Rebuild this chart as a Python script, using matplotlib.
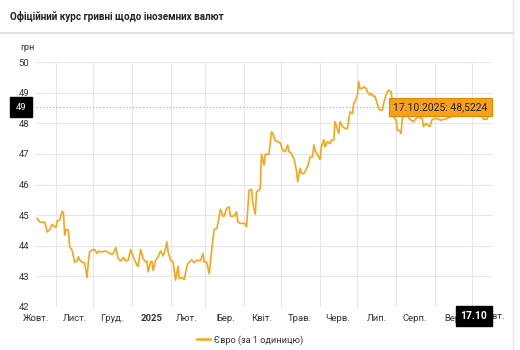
import matplotlib
matplotlib.use("Agg")
import matplotlib.pyplot as plt
import matplotlib.transforms as mtransforms
import pandas as pd

plt.rcParams["font.family"] = ["Roboto", "DejaVu Sans"]

# DATA: official EUR rate
dates = [
    "2024-10-17", "2024-10-19", "2024-10-22", "2024-10-23", "2024-10-25", "2024-10-27",
    "2024-10-29", "2024-10-31", "2024-11-01", "2024-11-02", "2024-11-04", "2024-11-06",
    "2024-11-07", "2024-11-08", "2024-11-09", "2024-11-11", "2024-11-12", "2024-11-14",
    "2024-11-16", "2024-11-18", "2024-11-19", "2024-11-20", "2024-11-22", "2024-11-24",
    "2024-11-26", "2024-11-27", "2024-11-28", "2024-11-30", "2024-12-02", "2024-12-04",
    "2024-12-05", "2024-12-08", "2024-12-11", "2024-12-13", "2024-12-16", "2024-12-17",
    "2024-12-19", "2024-12-21", "2024-12-23", "2024-12-25", "2024-12-27", "2024-12-29",
    "2024-12-31", "2025-01-02", "2025-01-05", "2025-01-06", "2025-01-08", "2025-01-10",
    "2025-01-12", "2025-01-13", "2025-01-14", "2025-01-16", "2025-01-17", "2025-01-18",
    "2025-01-20", "2025-01-22", "2025-01-24", "2025-01-26", "2025-01-28", "2025-01-29",
    "2025-01-30", "2025-02-01", "2025-02-03", "2025-02-05", "2025-02-07", "2025-02-08",
    "2025-02-10", "2025-02-12", "2025-02-14", "2025-02-15", "2025-02-18", "2025-02-20",
    "2025-02-22", "2025-02-25", "2025-02-27", "2025-02-28", "2025-03-02", "2025-03-04",
    "2025-03-06", "2025-03-08", "2025-03-10", "2025-03-11", "2025-03-13", "2025-03-15",
    "2025-03-16", "2025-03-18", "2025-03-20", "2025-03-21", "2025-03-24", "2025-03-26",
    "2025-03-27", "2025-03-29", "2025-04-02", "2025-04-03", "2025-04-05", "2025-04-07",
    "2025-04-08", "2025-04-10", "2025-04-11", "2025-04-13", "2025-04-14", "2025-04-15",
    "2025-04-17", "2025-04-18", "2025-04-21", "2025-04-23", "2025-04-24", "2025-04-26",
    "2025-04-28", "2025-04-30", "2025-05-02", "2025-05-04", "2025-05-06", "2025-05-07",
    "2025-05-09", "2025-05-10", "2025-05-11", "2025-05-13", "2025-05-14", "2025-05-16",
    "2025-05-17", "2025-05-19", "2025-05-22", "2025-05-24", "2025-05-26", "2025-05-27",
    "2025-05-28", "2025-05-30", "2025-06-01", "2025-06-02", "2025-06-04", "2025-06-05",
    "2025-06-07", "2025-06-09", "2025-06-10", "2025-06-12", "2025-06-13", "2025-06-16",
    "2025-06-17", "2025-06-19", "2025-06-21", "2025-06-23", "2025-06-24", "2025-06-25",
    "2025-06-27", "2025-06-28", "2025-06-29", "2025-07-01", "2025-07-02", "2025-07-03",
    "2025-07-05", "2025-07-06", "2025-07-08", "2025-07-09", "2025-07-11", "2025-07-12",
    "2025-07-14", "2025-07-15", "2025-07-16", "2025-07-18", "2025-07-19", "2025-07-21",
    "2025-07-22", "2025-07-24", "2025-07-25", "2025-07-26", "2025-07-28", "2025-07-29",
    "2025-07-30", "2025-08-01", "2025-08-02", "2025-08-04", "2025-08-05", "2025-08-06",
    "2025-08-09", "2025-08-12", "2025-08-15", "2025-08-18", "2025-08-22", "2025-08-23",
    "2025-08-25", "2025-08-28", "2025-08-30", "2025-09-02", "2025-09-06", "2025-09-11",
    "2025-09-16", "2025-09-20", "2025-09-23", "2025-09-27", "2025-10-02", "2025-10-07",
    "2025-10-09", "2025-10-10", "2025-10-13", "2025-10-14", "2025-10-17",
]
eur = [
    44.89, 44.78, 44.76, 44.78, 44.45, 44.53,
    44.70, 44.62, 44.60, 44.81, 44.84, 45.13,
    45.08, 44.35, 44.53, 44.51, 43.96, 43.86,
    43.47, 43.50, 43.64, 43.53, 43.47, 43.44,
    42.96, 43.47, 43.80, 43.86, 43.88, 43.75,
    43.82, 43.80, 43.83, 43.78, 43.72, 43.75,
    43.94, 43.58, 43.50, 43.62, 43.50, 43.53,
    43.88, 43.64, 43.37, 43.33, 43.88, 43.58,
    43.47, 43.50, 43.15, 43.47, 43.50, 43.20,
    43.53, 43.64, 43.83, 43.67, 43.91, 44.13,
    43.80, 43.53, 43.47, 42.88, 43.33, 42.93,
    42.96, 42.90, 43.31, 43.42, 43.55, 43.44,
    43.53, 43.51, 43.75, 43.47, 43.47, 43.09,
    43.86, 44.53, 44.56, 44.73, 45.19, 44.97,
    44.97, 45.22, 45.27, 44.97, 44.97, 45.11,
    44.78, 44.73, 44.73, 44.62, 45.82, 45.84,
    45.38, 45.03, 45.76, 45.82, 45.87, 46.99,
    46.63, 46.99, 46.99, 47.72, 47.67, 47.43,
    47.40, 47.36, 47.12, 47.07, 47.29, 47.07,
    47.02, 46.91, 46.85, 46.47, 46.09, 46.53,
    46.36, 46.36, 46.58, 46.89, 46.91, 47.29,
    47.12, 46.96, 46.82, 47.23, 47.47, 47.23,
    47.40, 47.34, 47.45, 47.45, 48.05, 47.67,
    48.05, 47.89, 47.83, 47.83, 48.10, 48.38,
    48.32, 48.65, 48.70, 48.92, 49.36, 49.14,
    49.14, 49.19, 49.14, 49.03, 48.92, 48.98,
    48.87, 48.89, 48.76, 48.49, 48.43, 48.43,
    48.65, 48.92, 49.03, 49.08, 49.03, 48.70,
    48.21, 48.10, 47.78, 47.75, 47.67, 48.16,
    48.30, 48.13, 48.05, 48.20, 48.16, 47.89,
    48.00, 47.89, 48.13, 48.16, 48.10, 48.16,
    48.24, 48.45, 48.40, 48.35, 48.40, 48.35,
    48.27, 48.13, 48.13, 48.27, 48.5224,
]
month_labels = ["Жовт.", "Лист.", "Груд.", "2025", "Лют.", "Бер.", "Квіт.",
                "Трав.", "Черв.", "Лип.", "Серп.", "Вер.", "Жовт."]
label_dates = ["2024-10-16", "2024-11-16", "2024-12-16", "2025-01-17", "2025-02-14",
               "2025-03-17", "2025-04-15", "2025-05-16", "2025-06-15", "2025-07-17",
               "2025-08-16", "2025-09-16", "2025-10-17"]
y_ticks = [42, 43, 44, 45, 46, 47, 48, 49, 50]

LINE = "#f9a51a"
GRID = "#e6e6e6"
TEXT = "#333333"
FS = 6.8

x = pd.to_datetime(dates)
lx = pd.to_datetime(label_dates)
last_x, last_y = x[-1], eur[-1]

fig = plt.figure(figsize=(5.2, 3.5), dpi=100)
ax = fig.add_axes([36 / 520, 43 / 350, 456 / 520, 245 / 350])

ax.plot(x, eur, color=LINE, lw=1.2, zorder=3)

ax.set_xlim(pd.Timestamp("2024-10-16"), last_x)
ax.set_ylim(42, 50)

# gridlines at month starts, labels mid-month
ax.set_xticks(pd.date_range("2024-11-01", "2025-10-01", freq="MS"))
ax.set_xticklabels([])
ax.set_xticks(lx[:-1], minor=True)
ax.set_xticklabels(month_labels[:-1], minor=True)
ax.tick_params(axis="x", which="both", length=0, pad=5, labelsize=FS, labelcolor=TEXT)
for lbl in ax.get_xticklabels(minor=True):
    if lbl.get_text() == "2025":
        lbl.set_fontweight("bold")
trans = mtransforms.blended_transform_factory(ax.transData, ax.transAxes)
ax.text(lx[-1], -0.02, month_labels[-1], transform=trans, ha="center", va="top",
        fontsize=FS, color=TEXT, clip_on=False, zorder=3)

ax.set_yticks(y_ticks)
ax.tick_params(axis="y", length=0, pad=5, labelsize=FS, labelcolor=TEXT)
ax.grid(True, which="major", color=GRID, lw=0.8)
ax.set_axisbelow(True)
for s in ax.spines.values():
    s.set_visible(False)

# crosshair
ax.axhline(last_y, color="#aaaaaa", lw=0.8, ls=(0, (1, 2)), zorder=2)
ax.axvline(last_x, color="#aaaaaa", lw=0.8, ls=(0, (1, 2)), zorder=2)
ax.annotate(f"{round(last_y):d}", xy=(0, last_y), xycoords=("axes fraction", "data"),
            xytext=(-11, 0), textcoords="offset points", ha="center", va="center",
            fontsize=FS, color="white",
            bbox=dict(boxstyle="square,pad=0.6", fc="black", ec="black"),
            annotation_clip=False, zorder=6)
ax.annotate(last_x.strftime("%d.%m"), xy=(last_x, 0), xycoords=("data", "axes fraction"),
            xytext=(-13, -6.5), textcoords="offset points", ha="center", va="center",
            fontsize=7.5, color="white", fontweight="bold",
            bbox=dict(boxstyle="square,pad=0.45", fc="black", ec="black"),
            annotation_clip=False, zorder=6)

# tooltip
tip = f"{last_x.strftime('%d.%m.%Y')}: " + f"{last_y:.4f}".replace(".", ",")
ax.annotate(tip, xy=(last_x, last_y), xytext=(-3, 0), textcoords="offset points",
            ha="right", va="center", fontsize=7.5, color="#222222",
            bbox=dict(boxstyle="square,pad=0.4", fc="#f7a01c", ec="#e08a00", lw=0.8),
            annotation_clip=False, zorder=7)

# header, unit, border, legend
fig.text(10 / 520, 1 - 17 / 350, "Офіційний курс гривні щодо іноземних валют",
         fontsize=7.1, fontweight="bold", color="#222222", va="center")
fig.add_artist(plt.Line2D([0, 513 / 520], [1 - 33 / 350] * 2, color="#dddddd", lw=1.2))
fig.add_artist(plt.Line2D([513 / 520] * 2, [0, 1], color="#e6e6e6", lw=1))
fig.text(20 / 520, 1 - 47 / 350, "грн", fontsize=6.6, color=TEXT, va="center")

ax.legend([plt.Line2D([], [], color=LINE, lw=1.8)], ["Євро (за 1 одиницю)"],
          loc="center", bbox_to_anchor=(0.47, -33 / 245),
          frameon=False, fontsize=6.6, handlelength=1.4, handletextpad=0.5,
          labelcolor=TEXT)

fig.savefig("out.png", dpi=100, facecolor="white")
